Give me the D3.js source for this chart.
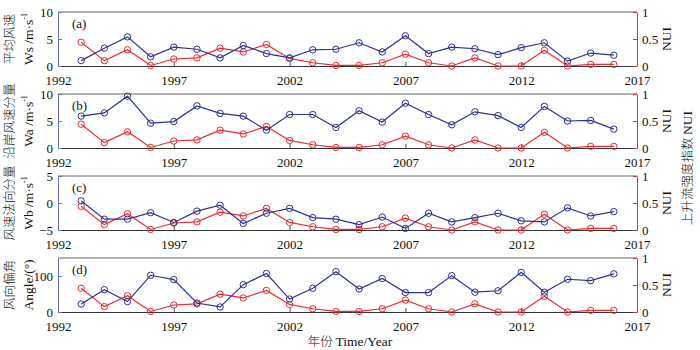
<!DOCTYPE html>
<html>
<head>
<meta charset="utf-8">
<script src="https://cdn.jsdelivr.net/npm/d3@7"></script>
<style>
  body { margin: 0; background: #fff; }
  text { font-family: "Liberation Serif", "DejaVu Serif", serif; }
  .cn { font-family: "Noto Sans CJK SC", sans-serif; font-weight: 300; }
</style>
</head>
<body>
<div id="chart"></div>
<script>
// data
const years = [1993,1994,1995,1996,1997,1998,1999,2000,2001,2002,2003,2004,2005,2006,2007,2008,2009,2010,2011,2012,2013,2014,2015,2016];
const nui   = [0.44,0.10,0.30,0.01,0.13,0.15,0.33,0.26,0.40,0.14,0.06,0.01,0.01,0.06,0.22,0.06,0.00,0.15,0.00,0.00,0.29,0.00,0.03,0.03];
const ws    = [1.0,3.3,5.4,1.7,3.5,3.1,1.5,3.8,2.3,1.5,3.0,3.1,4.3,2.6,5.6,2.3,3.5,3.2,2.1,3.4,4.3,0.9,2.4,2.0];
const wa    = [5.9,6.5,9.6,4.6,4.9,7.8,6.4,5.9,3.3,6.2,6.2,3.8,6.9,4.8,8.3,6.2,4.3,6.7,6.0,3.8,7.7,5.0,5.1,3.5];
const wb    = [0.4,-3.0,-3.0,-1.8,-3.6,-1.5,-0.4,-3.8,-1.9,-1.0,-2.7,-3.0,-4.0,-2.6,-4.7,-1.9,-3.5,-2.7,-1.9,-3.3,-3.5,-0.9,-2.4,-1.6];
const angle = [22,62,29,102,90,25,14,76,107,36,66,112,64,93,54,54,101,55,59,110,55,91,87,106];

const xTicks = [1992,1997,2002,2007,2012,2017];
const nuiTicks = [0,0.5,1];

const panels = [
  {tag:'(a)', values: ws,    domain:[0,10],  ticks:[0,5,10],  cn:'平均风速',     en:'Ws /m·s', sup:true},
  {tag:'(b)', values: wa,    domain:[0,10],  ticks:[0,5,10],  cn:'沿岸风速分量', en:'Wa /m·s', sup:true},
  {tag:'(c)', values: wb,    domain:[-5,5],  ticks:[-5,0,5],  cn:'风速法向分量', en:'Wb /m·s', sup:true},
  {tag:'(d)', values: angle, domain:[0,150], ticks:[0,100],   cn:'风向偏角',     en:'Angle/(°)', sup:false}
];

const W = 700, H = 350;
const left = 58, right = 637;
const tops = [12, 94, 176, 258];
const ph = 54;
const blue = '#2e3192', red = '#ee2a2e';
const serif = '"Liberation Serif", "DejaVu Serif", serif';

const svg = d3.select('#chart').append('svg').attr('width', W).attr('height', H);

const x = d3.scaleLinear().domain([1992, 2017]).range([left, right]);

panels.forEach((p, i) => {
  let top = tops[i], bottom = top + ph;
  let y = d3.scaleLinear().domain(p.domain).range([bottom, top]);
  let yr = d3.scaleLinear().domain([0, 1]).range([bottom, top]);
  let g = svg.append('g');

  // frame
  g.append('line').attr('x1', left).attr('x2', right).attr('y1', top).attr('y2', top)
    .attr('stroke', '#666').attr('stroke-width', 1);

  // x axis
  let xAxis = d3.axisBottom(x).tickValues(xTicks).tickFormat(d3.format('d')).tickSizeInner(-4).tickSizeOuter(0);
  let xa = g.append('g').attr('transform', 'translate(0,' + bottom + ')').call(xAxis)
    .attr('font-family', serif).attr('font-size', 13);
  xa.select('.domain').attr('stroke', '#333');
  xa.selectAll('.tick line').attr('stroke', '#555');
  xa.selectAll('text').attr('fill', '#111').attr('dy', '1.2em');

  // left axis
  let yAxis = d3.axisLeft(y).tickValues(p.ticks).tickFormat(d => d < 0 ? '−' + Math.abs(d) : d).tickSizeInner(-4).tickSizeOuter(0);
  let ya = g.append('g').attr('transform', 'translate(' + left + ',0)').call(yAxis)
    .attr('font-family', serif).attr('font-size', 13);
  ya.select('.domain').attr('stroke', '#6a72c0');
  ya.selectAll('.tick line').attr('stroke', '#6a72c0');
  ya.selectAll('text').attr('fill', '#111').attr('x', -5);

  // right axis
  let rAxis = d3.axisRight(yr).tickValues(nuiTicks).tickFormat(d => d).tickSizeInner(-4).tickSizeOuter(0);
  let ra = g.append('g').attr('transform', 'translate(' + right + ',0)').call(rAxis)
    .attr('font-family', serif).attr('font-size', 13);
  ra.select('.domain').attr('stroke', red);
  ra.selectAll('.tick line').attr('stroke', red);
  ra.selectAll('text').attr('fill', '#111').attr('x', 5);

  // NUI line
  let nuiLine = d3.line().x((d, j) => x(years[j])).y(d => yr(d));
  g.append('path').datum(nui).attr('d', nuiLine)
    .attr('fill', 'none').attr('stroke', red).attr('stroke-width', 1.2);
  g.selectAll('.rdot').data(nui).enter().append('circle')
    .attr('cx', (d, j) => x(years[j])).attr('cy', d => yr(d)).attr('r', 3.2)
    .attr('fill', 'none').attr('stroke', red).attr('stroke-width', 1);

  // wind line
  let wLine = d3.line().x((d, j) => x(years[j])).y(d => y(d));
  g.append('path').datum(p.values).attr('d', wLine)
    .attr('fill', 'none').attr('stroke', blue).attr('stroke-width', 1.2);
  g.selectAll('.bdot').data(p.values).enter().append('circle')
    .attr('cx', (d, j) => x(years[j])).attr('cy', d => y(d)).attr('r', 3.2)
    .attr('fill', 'none').attr('stroke', blue).attr('stroke-width', 1);

  // panel tag
  g.append('text').attr('x', 72).attr('y', top + 16).attr('font-size', 13).attr('fill', '#111').text(p.tag);

  // left labels
  let cy = (top + bottom) / 2;
  let en = g.append('text').attr('text-anchor', 'middle').attr('font-size', 13.5).attr('fill', '#111')
    .attr('transform', 'translate(33,' + cy + ') rotate(-90)');
  en.append('tspan').text(p.en);
  if (p.sup) en.append('tspan').attr('font-size', 8).attr('dy', -6).text('-1');
  g.append('text').attr('class', 'cn').attr('text-anchor', 'middle').attr('font-size', 12.5).attr('fill', '#111')
    .attr('transform', 'translate(14,' + cy + ') rotate(-90)').text(p.cn);

  // right label
  g.append('text').attr('text-anchor', 'middle').attr('font-size', 13.5).attr('fill', '#111')
    .attr('transform', 'translate(671,' + cy + ') rotate(-90)').text('NUI');
});

// overall labels
svg.append('text').attr('text-anchor', 'middle').attr('font-size', 13.5).attr('fill', '#111')
  .attr('transform', 'translate(692,168) rotate(-90)')
  .call(t => {
    t.append('tspan').attr('class', 'cn').attr('font-size', 12.5).text('上升流强度指数 ');
    t.append('tspan').text('NUI');
  });

svg.append('text').attr('x', 350).attr('y', 346).attr('text-anchor', 'middle').attr('font-size', 13.5).attr('fill', '#111')
  .call(t => {
    t.append('tspan').attr('class', 'cn').attr('font-size', 12.5).text('年份 ');
    t.append('tspan').text('Time/Year');
  });
</script>
</body>
</html>
